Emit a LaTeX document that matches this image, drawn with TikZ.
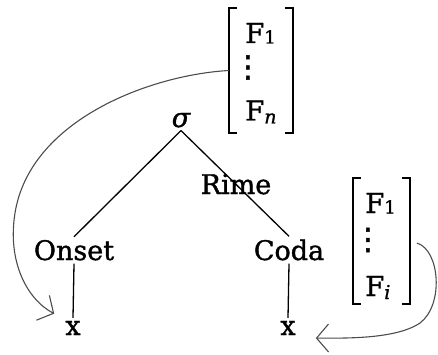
\documentclass[tikz,border=0pt]{standalone}
\usepackage{fontspec}
\setmainfont{DejaVu Serif}[FakeBold=1.3]
\newfontfamily\symf{DejaVu Sans}[FakeBold=1.3]
\usetikzlibrary{arrows.meta}
\newcommand\myvdots{{\symf ⋮}}
\newcommand\subup[1]{\raisebox{-0.5pt}{\fontsize{18}{18}\selectfont #1}}
\newcommand\subit[1]{\raisebox{-3pt}{\fontsize{19}{19}\selectfont\itshape #1}}
\begin{document}
\begin{tikzpicture}[x=1pt,y=-1pt,
  lbl/.style={font=\fontsize{27}{32}\selectfont, inner sep=3pt, anchor=base},
  feat/.style={font=\fontsize{27.5}{32}\selectfont, inner sep=0pt, anchor=base west},
  dts/.style={font=\fontsize{30}{32}\selectfont, inner sep=0pt, anchor=center},
  edge/.style={line width=1.3pt},
  brk/.style={line width=2.3pt},
  arr/.style={draw=black!70, line width=1.1pt, -{Straight Barb[length=12pt,width=28pt]}},
  frame/.style={minimum width=#1, inner sep=0pt, minimum height=125pt}]
\useasboundingbox (0,0) rectangle (438,355);
% tree
\node[lbl] (sigma) at (181,127) {\itshape σ};
\node[lbl] (rime) at (236,194) {Rime};
\node[lbl] (onset) at (74,260) {Onset};
\node[lbl] (coda) at (289,260) {Coda};
\node[lbl] (x1) at (73,335) {x};
\node[lbl] (x2) at (288,335) {x};
\draw[edge] (sigma.south) -- (onset.north);
\draw[edge] (sigma.south) -- (coda.north);
\draw[edge] (onset.south) -- (x1.north);
\draw[edge] (coda.south) -- (x2.north);
% feature bracket 1
\node[frame=64pt] (bra) at (261,70.5) {};
\node[feat] (f1a) at (245,43) {F\subup{1}};
\node[dts] (dotsa) at (248,67.5) {\myvdots};
\node[feat] (fna) at (245,120.5) {F\subit{n}};
\draw[brk] ([xshift=8pt]bra.north west) -- (bra.north west) -- (bra.south west) -- ([xshift=8pt]bra.south west);
\draw[brk] ([xshift=-8pt]bra.north east) -- (bra.north east) -- (bra.south east) -- ([xshift=-8pt]bra.south east);
% feature bracket 2
\node[frame=57pt] (brb) at (381.5,241) {};
\node[feat] (f1b) at (365,213) {F\subup{1}};
\node[dts] (dotsb) at (368,240) {\myvdots};
\node[feat] (fib) at (365,296) {F\subit{i}};
\draw[brk] ([xshift=8pt]brb.north west) -- (brb.north west) -- (brb.south west) -- ([xshift=8pt]brb.south west);
\draw[brk] ([xshift=-8pt]brb.north east) -- (brb.north east) -- (brb.south east) -- ([xshift=-8pt]brb.south east);
% arrows
\draw[arr, shorten >=9pt] (bra.west) .. controls (150,75) and (30,120) .. (15,213) .. controls (7,263) and (28,300) .. (x1.north west);
\draw[arr, shorten <=7pt, shorten >=17pt] (brb.east) .. controls (440,250) and (444,305) .. (420,323) .. controls (395,340) and (340,338) .. (x2.south east);
\end{tikzpicture}
\end{document}
